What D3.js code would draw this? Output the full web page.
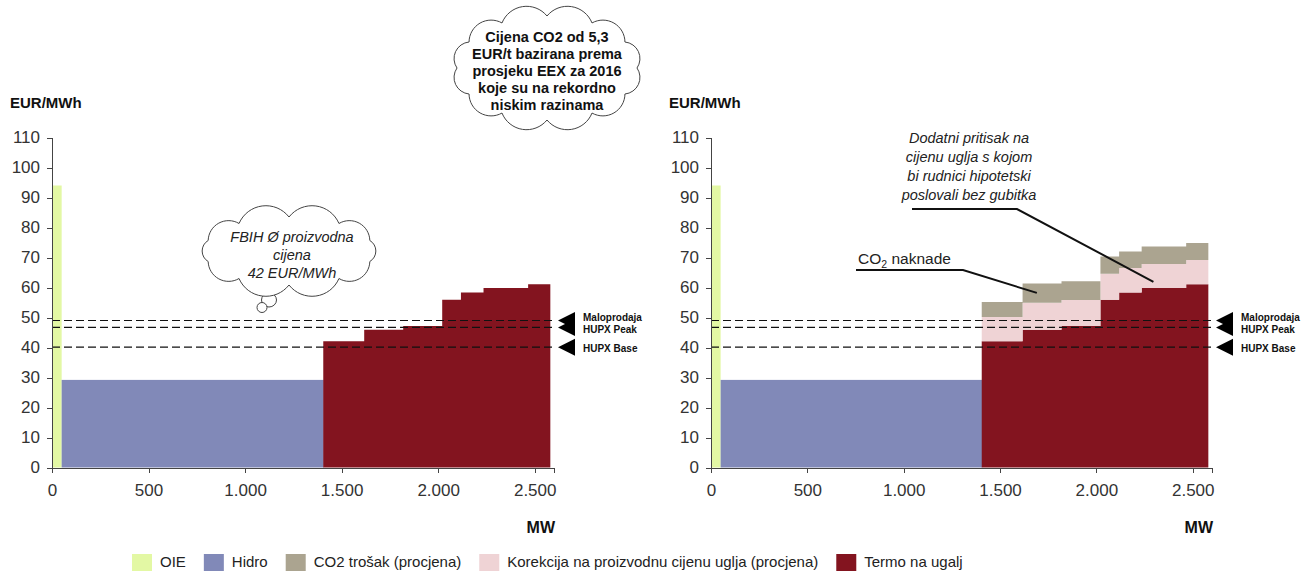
<!DOCTYPE html>
<html lang="hr">
<head>
<meta charset="UTF-8">
<title>Krivulja ponude FBiH</title>
<script src="https://d3js.org/d3.v7.min.js"></script>
<style>
  body { margin: 0; background: #fff; font-family: Arial, "Liberation Sans", sans-serif; }
  .axis path, .axis line { stroke: #444; fill: none; shape-rendering: crispEdges; }
  .axis text { font-size: 17px; fill: #333; font-family: Arial, "Liberation Sans", sans-serif; }
  .unit { font-size: 15px; font-weight: bold; fill: #111; }
  .ref { stroke: #111; stroke-width: 1.2; stroke-dasharray: 8,4; }
  .reflabel { font-size: 10px; font-weight: bold; fill: #111; }
  .cloud { fill: #fff; stroke: #444; stroke-width: 1; }
  .legend text { font-size: 15px; fill: #222; }
</style>
</head>
<body>
<svg width="1304" height="571"></svg>
<script>
// capacity (MW) and price (EUR/MWh)
var oieMW = [0, 50], oiePrice = 94;
var hydroMW = [50, 1405], hydroPrice = 29.2;
var thermalEdges = [1405, 1617, 1819, 2021, 2118, 2235, 2466, 2581];
var thermalPrice = [42.1, 45.9, 47.2, 55.9, 58.3, 59.8, 61.1];
var coalCorrection = [8.1, 9.0, 8.6, 8.7, 8.2, 8.0, 8.1];
var co2Cost = [5.0, 6.4, 6.3, 5.7, 5.5, 5.9, 5.6];

var refNames = ["Maloprodaja", "HUPX Peak", "HUPX Base"];
var refValues = [49.0, 46.7, 40.1];

var xTicks = [0, 500, 1000, 1500, 2000, 2500];
var yTicks = [0, 10, 20, 30, 40, 50, 60, 70, 80, 90, 100, 110];

var legendNames = ["OIE", "Hidro", "CO2 trošak (procjena)", "Korekcija na proizvodnu cijenu uglja (procjena)", "Termo na ugalj"];
var colors = {oie: "#e3f8a4", hydro: "#8189b8", co2: "#aba490", corr: "#efd3d5", thermal: "#83141f"};
var legendColors = [colors.oie, colors.hydro, colors.co2, colors.corr, colors.thermal];

var svg = d3.select("svg");
var fmt = d3.formatLocale({decimal: ",", thousands: ".", grouping: [3], currency: ["", ""]}).format(",");

function cloudPath(cx, cy, rx, ry, n) {
    var pts = d3.range(n).map(function(i) {
        var t = -Math.PI / 2 + i * 2 * Math.PI / n;
        return [cx + rx * Math.cos(t), cy + ry * Math.sin(t)];
    });
    var p = "M" + pts[0][0] + "," + pts[0][1];
    pts.forEach(function(a, i) {
        var b = pts[(i + 1) % n];
        var r = Math.hypot(b[0] - a[0], b[1] - a[1]) * 0.58;
        p += "A" + r + "," + r + " 0 0 1 " + b[0] + "," + b[1];
    });
    return p + "Z";
}

function drawChart(x0, x1, withCosts) {
    var x = d3.scaleLinear().domain([0, 2600]).range([x0, x1]);
    var y = d3.scaleLinear().domain([0, 110]).range([467.5, 137.5]);
    var g = svg.append("g");

    // OIE + hydro
    g.append("rect").attr("x", x(oieMW[0])).attr("width", x(oieMW[1]) - x(oieMW[0]))
        .attr("y", y(oiePrice)).attr("height", y(0) - y(oiePrice)).attr("fill", colors.oie);
    g.append("rect").attr("x", x(hydroMW[0])).attr("width", x(hydroMW[1]) - x(hydroMW[0]) + 0.5)
        .attr("y", y(hydroPrice)).attr("height", y(0) - y(hydroPrice)).attr("fill", colors.hydro);

    // thermal steps as one step area per layer (thermal, then correction and CO2 on the right)
    var steps = thermalPrice.map(function(p, i) {
        return {x: thermalEdges[i], t: p, c: coalCorrection[i], e: co2Cost[i]};
    });
    steps.push(Object.assign({}, steps[steps.length - 1], {x: thermalEdges[thermalEdges.length - 1]}));
    var layers = [[function() { return 0; }, function(d) { return d.t; }, colors.thermal]];
    if (withCosts) {
        layers.push([function(d) { return d.t; }, function(d) { return d.t + d.c; }, colors.corr]);
        layers.push([function(d) { return d.t + d.c; }, function(d) { return d.t + d.c + d.e; }, colors.co2]);
    }
    layers.forEach(function(l) {
        var area = d3.area().curve(d3.curveStepAfter)
            .x(function(d) { return x(d.x); })
            .y0(function(d) { return y(l[0](d)); })
            .y1(function(d) { return y(l[1](d)); });
        g.append("path").attr("d", area(steps)).attr("fill", l[2]);
    });

    // reference price lines
    refValues.forEach(function(v, i) {
        g.append("line").attr("class", "ref")
            .attr("x1", x(0)).attr("x2", x(2600) - 1).attr("y1", y(v)).attr("y2", y(v));
        var tx = x(2600) + 4, ty = y(v);
        g.append("path").attr("d", "M" + tx + "," + ty + "L" + (tx + 17) + "," + (ty - 8.5) + "L" + (tx + 17) + "," + (ty + 8.5) + "Z")
            .attr("fill", "#000");
    });
    var dy = [-3.5, 2.5, 1];
    refNames.forEach(function(n, i) {
        g.append("text").attr("class", "reflabel").attr("x", x(2600) + 29).attr("y", y(refValues[i]) + dy[i])
            .attr("dy", "0.35em").text(n);
    });

    g.append("g").attr("class", "axis").attr("transform", "translate(0," + y(0) + ")")
        .call(d3.axisBottom(x).tickValues(xTicks).tickFormat(fmt).tickSizeOuter(0).tickSize(5).tickPadding(11));
    g.append("g").attr("class", "axis").attr("transform", "translate(" + x(0) + ",0)")
        .call(d3.axisLeft(y).tickValues(yTicks).tickSizeOuter(0).tickSize(5).tickPadding(7));

    g.append("text").attr("class", "unit").attr("x", x0 - 42).attr("y", 108).text("EUR/MWh");
    g.append("text").attr("class", "unit").attr("x", x(2600) + 1).attr("y", 533).attr("text-anchor", "end")
        .style("font-size", "16px").text("MW");
    return {x: x, y: y};
}

var left = drawChart(52, 554, false);
var right = drawChart(711, 1212, true);

// cloud: CO2 price note
svg.append("path").attr("class", "cloud").attr("d", cloudPath(547, 68, 90, 52, 12));
var topLines = ["Cijena CO2 od 5,3", "EUR/t bazirana prema", "prosjeku EEX za 2016", "koje su na rekordno", "niskim razinama"];
svg.append("text").attr("text-anchor", "middle").style("font-size", "14.5px").style("font-weight", "bold").attr("fill", "#111")
    .selectAll("tspan").data(topLines).join("tspan")
    .attr("x", 547).attr("y", function(d, i) { return 42 + i * 17; }).text(function(d) { return d; });

// cloud: FBIH average production price
svg.append("ellipse").attr("class", "cloud").attr("cx", 269).attr("cy", 300).attr("rx", 7.5).attr("ry", 7);
svg.append("ellipse").attr("class", "cloud").attr("cx", 262).attr("cy", 307.5).attr("rx", 5).attr("ry", 5);
svg.append("path").attr("class", "cloud").attr("d", cloudPath(289, 251, 85, 34, 10));
var cloudLines = ["FBIH Ø proizvodna", "cijena", "42 EUR/MWh"];
svg.append("text").attr("text-anchor", "middle").style("font-size", "14.5px").style("font-style", "italic").attr("fill", "#222")
    .selectAll("tspan").data(cloudLines).join("tspan")
    .attr("x", 292).attr("y", function(d, i) { return 242 + i * 18; }).text(function(d) { return d; });

// annotations on the right chart
var noteLines = ["Dodatni pritisak na", "cijenu uglja s kojom", "bi rudnici hipotetski", "poslovali bez gubitka"];
svg.append("text").attr("text-anchor", "middle").style("font-size", "14.5px").style("font-style", "italic").attr("fill", "#222")
    .selectAll("tspan").data(noteLines).join("tspan")
    .attr("x", 969).attr("y", function(d, i) { return 143 + i * 19; }).text(function(d) { return d; });
svg.append("path").attr("fill", "none").attr("stroke", "#111").attr("stroke-width", 2)
    .attr("d", "M912,209L1017,209L" + right.x(2296) + "," + right.y(61.9));

var co2 = svg.append("text").attr("x", 858).attr("y", 264).style("font-size", "15.5px").attr("fill", "#222");
co2.append("tspan").text("CO");
co2.append("tspan").attr("dy", 4).style("font-size", "10.5px").text("2");
co2.append("tspan").attr("dy", -4).text(" naknade");
svg.append("path").attr("fill", "none").attr("stroke", "#111").attr("stroke-width", 2)
    .attr("d", "M856,270L963,270L" + right.x(1691) + "," + right.y(58.2));

// legend
var lg = svg.append("g").attr("class", "legend");
var lx = 132;
legendNames.forEach(function(n, i) {
    lg.append("rect").attr("x", lx).attr("y", 554).attr("width", 20).attr("height", 17).attr("fill", legendColors[i]);
    var t = lg.append("text").attr("x", lx + 28).attr("y", 567).text(n);
    lx += 28 + t.node().getComputedTextLength() + 18;
});
</script>
</body>
</html>
